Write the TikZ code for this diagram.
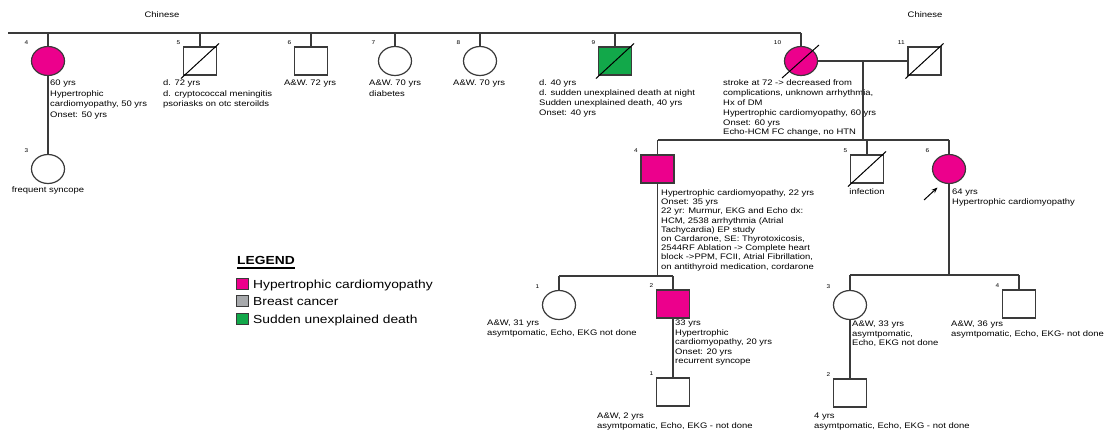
\documentclass[tikz,border=0pt]{standalone}
\usepackage{fontspec}
\setmainfont{Liberation Sans}
\newfontfamily\pedfont[FakeStretch=1.18]{Liberation Sans}
\usetikzlibrary{shapes.geometric,calc,arrows.meta}
\definecolor{hcm}{HTML}{EC008C}
\definecolor{sud}{HTML}{12A84A}
\definecolor{brc}{HTML}{A7A9AC}
\definecolor{lin}{HTML}{3A3A3A}
\newcommand\pednum[2]{\node[num] (#1n) at ($(#1.west |- #1.north)+(-2.5,-3.5)$) {#2};}
\newcommand\pedslash[1]{\draw[deceased] ($(#1.south west)+(-2,3)$) -- ($(#1.north east)+(2,-3)$);}
\begin{document}
\begin{tikzpicture}[x=1pt,y=-1pt,
 conn/.style={draw=lin,line width=1.2pt},
 male/.style={draw=lin,line width=1.2pt,rectangle,minimum width=33pt,minimum height=28pt,inner sep=0,fill=white},
 female/.style={draw=lin,line width=1.2pt,ellipse,minimum width=33pt,minimum height=29pt,inner sep=0,fill=white},
 num/.style={font=\pedfont\fontsize{5.5}{6}\selectfont,anchor=east,inner sep=0},
 info/.style={font=\pedfont\fontsize{8}{10}\selectfont,align=left,anchor=north west,inner sep=0},
 deceased/.style={draw=black,line width=1pt},
 legbox/.style={draw=lin,line width=1pt,rectangle,minimum width=12pt,minimum height=11pt,inner sep=0},
 legtxt/.style={font=\pedfont\fontsize{11.7}{14}\selectfont,anchor=base west,inner sep=0},
]
\fill[white] (0,0) rectangle (1106,430);
\useasboundingbox (0,0) rectangle (1106,430);

% ---------------- Generation I
\node[info,anchor=north,align=center] (chl) at (162,12) {Chinese};
\node[info,anchor=north,align=center] (chr) at (925,12) {Chinese};

\node[female,fill=hcm] (a4) at (48,61) {};
\node[male] (a5) at (200,61) {};
\node[male] (a6) at (311,61) {};
\node[female] (a7) at (395,61) {};
\node[female] (a8) at (480,61) {};
\node[male,fill=sud] (a9) at (615,61) {};
\node[female,fill=hcm] (a10) at (801,61) {};
\node[male] (a11) at (924.5,61) {};
\node[female] (b3) at (48,169) {};

\coordinate (topL) at (8,33);
\coordinate (topR) at (801,33);
\draw[conn] (topL) -- (topR);
\foreach \n in {a4,a5,a6,a7,a8,a9,a10} \draw[conn] (\n.north) -- (\n.north |- topL);
\draw[conn] (a4.south) -- (b3.north);
\draw[conn] (a10.east) -- (a11.west);

\pedslash{a5}
\pedslash{a9}
\pedslash{a11}
\draw[deceased] ($(a10.center)+(-19,17)$) -- ($(a10.center)+(18,-16)$);

\pednum{a4}{4}
\pednum{a5}{5}
\pednum{a6}{6}
\pednum{a7}{7}
\pednum{a8}{8}
\pednum{a9}{9}
\pednum{a10}{10}
\pednum{a11}{11}
\pednum{b3}{3}

\node[info,font=\pedfont\fontsize{8}{10.6}\selectfont] (t4) at (50,80) {60 yrs\\Hypertrophic\\cardiomyopathy, 50 yrs\\Onset: 50 yrs};
\node[info,anchor=north,align=center] (t3) at (48,187) {frequent syncope};
\node[info,font=\pedfont\fontsize{8}{10.5}\selectfont] (t5) at (163,80) {d. 72 yrs\\d. cryptococcal meningitis\\psoriasks on otc steroilds};
\node[info] (t6) at (284,80) {A\&W. 72 yrs};
\node[info,font=\pedfont\fontsize{8}{10.3}\selectfont] (t7) at (369,80) {A\&W. 70 yrs\\diabetes};
\node[info] (t8) at (453,80) {A\&W. 70 yrs};
\node[info,font=\pedfont\fontsize{8}{9.7}\selectfont] (t9) at (539,80) {d. 40 yrs\\d. sudden unexplained death at night\\Sudden unexplained death, 40 yrs\\Onset: 40 yrs};
\node[info,font=\pedfont\fontsize{8}{9.8}\selectfont] (t10) at (723,80) {stroke at 72 -> decreased from\\complications, unknown arrhythmia,\\Hx of DM\\Hypertrophic cardiomyopathy, 60 yrs\\Onset: 60 yrs\\Echo-HCM FC change, no HTN};

% ---------------- Generation II
\coordinate (m1) at (863,61);
\coordinate (s2) at (863,140);
\draw[conn] (m1) -- (s2);
\coordinate (s2L) at (657.5,140);
\coordinate (s2R) at (949,140);
\draw[conn] (s2L) -- (s2R);

\node[male,fill=hcm] (b4) at (657.5,169) {};
\node[male] (b5) at (867,169) {};
\node[female,fill=hcm] (b6) at (949,169) {};
\foreach \n in {b4,b5,b6} \draw[conn] (\n.north) -- (\n.north |- s2L);
\pedslash{b5}
\pednum{b4}{4}
\pednum{b5}{5}
\pednum{b6}{6}

\node[info,font=\pedfont\fontsize{8}{9.2}\selectfont] (tb4) at (661,189.5) {Hypertrophic cardiomyopathy, 22 yrs\\Onset: 35 yrs\\22 yr: Murmur, EKG and Echo dx:\\HCM, 2538 arrhythmia (Atrial\\Tachycardia) EP study\\on Cardarone, SE: Thyrotoxicosis,\\2544RF Ablation -> Complete heart\\block ->PPM, FCII, Atrial Fibrillation,\\on antithyroid medication, cordarone};
\node[info,anchor=north,align=center] (tb5) at (867,189) {infection};
\node[info,font=\pedfont\fontsize{8}{9.5}\selectfont] (tb6) at (952,189) {64 yrs\\Hypertrophic cardiomyopathy};

\coordinate (pa) at (924,200);
\coordinate (pb) at (937.5,187.5);
\draw[line width=1pt,-{Stealth[length=6pt,width=4.5pt]}] (pa) -- (pb);

% ---------------- Generation III
\coordinate (s3aL) at (559,276);
\coordinate (s3aR) at (673,276);
\draw[conn] (b4.south) -- (b4.south |- s3aL);
\draw[conn] (s3aL) -- (s3aR);
\node[female] (c1) at (559,305) {};
\node[male,fill=hcm] (c2) at (673,304) {};
\foreach \n in {c1,c2} \draw[conn] (\n.north) -- (\n.north |- s3aL);

\coordinate (s3bL) at (850,275);
\coordinate (s3bR) at (1019,275);
\draw[conn] (b6.south) -- (b6.south |- s3bL);
\draw[conn] (s3bL) -- (s3bR);
\node[female] (c3) at (850,305) {};
\node[male] (c4) at (1019,304) {};
\foreach \n in {c3,c4} \draw[conn] (\n.north) -- (\n.north |- s3bL);

\pednum{c1}{1}
\pednum{c2}{2}
\pednum{c3}{3}
\pednum{c4}{4}

\node[info,font=\pedfont\fontsize{8}{9.6}\selectfont] (tc1) at (487,320) {A\&W, 31 yrs\\asymtpomatic, Echo, EKG not done};
\node[info,font=\pedfont\fontsize{8}{9.5}\selectfont] (tc2) at (675,320) {33 yrs\\Hypertrophic\\cardiomyopathy, 20 yrs\\Onset: 20 yrs\\recurrent syncope};
\node[info,font=\pedfont\fontsize{8}{9.6}\selectfont] (tc3) at (852,321) {A\&W, 33 yrs\\asymtpomatic,\\Echo, EKG not done};
\node[info,font=\pedfont\fontsize{8}{9.6}\selectfont] (tc4) at (951,321) {A\&W, 36 yrs\\asymtpomatic, Echo, EKG- not done};

% ---------------- Generation IV
\node[male] (d1) at (673,392) {};
\node[male] (d2) at (850,393) {};
\draw[conn] (c2.south) -- (d1.north);
\draw[conn] (c3.south) -- (d2.north);
\pednum{d1}{1}
\pednum{d2}{2}
\node[info,font=\pedfont\fontsize{8}{9.7}\selectfont] (td1) at (597,413) {A\&W, 2 yrs\\asymtpomatic, Echo, EKG - not done};
\node[info,font=\pedfont\fontsize{8}{9.7}\selectfont] (td2) at (814,413) {4 yrs\\asymtpomatic, Echo, EKG - not done};

% ---------------- Legend
\node[font=\pedfont\bfseries\fontsize{11.7}{14}\selectfont,anchor=base west,inner sep=0] (legT) at (237,264.2) {LEGEND};
\draw[line width=1.3pt] ($(legT.base west)+(0,3.8)$) -- ($(legT.base east)+(0,3.8)$);
\node[legbox,fill=hcm] (lg1) at (242,284) {};
\node[legbox,fill=brc] (lg2) at (242,301.5) {};
\node[legbox,fill=sud] (lg3) at (242,319) {};
\node[legtxt] (lt1) at (253,288.2) {Hypertrophic cardiomyopathy};
\node[legtxt] (lt2) at (253,305.7) {Breast cancer};
\node[legtxt] (lt3) at (253,323.2) {Sudden unexplained death};
\end{tikzpicture}
\end{document}
